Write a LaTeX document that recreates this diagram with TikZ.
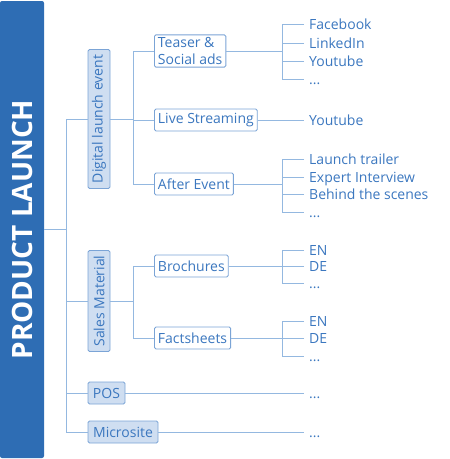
\documentclass[tikz,border=0pt]{standalone}
\usepackage{fontspec}
\setmainfont{Open Sans}
\usepackage{tikz}
\usetikzlibrary{positioning}

\definecolor{barblue}{HTML}{2E6DB4}
\definecolor{txtblue}{HTML}{3B77BF}
\definecolor{lineblue}{HTML}{94B8E0}
\definecolor{boxblue}{HTML}{7BA4D6}
\definecolor{boxfill}{HTML}{CFDEF1}

\begin{document}
\begin{tikzpicture}[x=1pt,y=-1pt,
    link/.style={draw=lineblue, line width=0.9pt},
    bar/.style={fill=barblue, rounded corners=2pt, inner sep=0pt, text=white,
      font=\fontsize{28}{30}\selectfont\bfseries},
    topic/.style={draw=boxblue, line width=0.9pt, fill=boxfill, rounded corners=1.5pt,
      text=txtblue, inner sep=0pt, font=\fontsize{14}{17}\selectfont},
    sub/.style={draw=boxblue, line width=0.9pt, fill=white, rounded corners=1.5pt,
      text=txtblue, inner xsep=3.5pt, inner ysep=2.5pt, minimum height=22pt, align=left,
      anchor=west, font=\fontsize{14}{17}\selectfont},
    leaf/.style={anchor=west, text=txtblue, inner xsep=5pt, inner ysep=1pt,
      text height=11.5pt, text depth=1.5pt, font=\fontsize{14}{17}\selectfont}]
  \useasboundingbox (0,0) rectangle (450,459);

  % main bar and topics
  \node[bar, minimum width=44pt, minimum height=457pt] (launch) at (22,229.5) {\rotatebox{90}{PRODUCT LAUNCH}};
  \node[topic, minimum width=22pt, minimum height=139pt] (digital) at (99,119) {\rotatebox{90}{Digital launch event}};
  \node[topic, minimum width=22pt, minimum height=101pt] (sales) at (99,301) {\rotatebox{90}{Sales Material}};
  \node[topic, minimum width=37pt, minimum height=22pt] (pos) at (106.5,393) {POS};
  \node[topic, minimum width=70pt, minimum height=22pt] (microsite) at (123,432) {Microsite};

  \coordinate (trunk) at (66,229);
  \coordinate (split) at (133,0);
  \coordinate (leafx) at (282,0);

  % sub topics
  \node[sub] (teaser) at (154,51) {Teaser \&\\Social ads};
  \node[sub] (live) at (154,120) {Live Streaming};
  \node[sub] (after) at (154,184) {After Event};
  \node[sub] (brochures) at (154,266) {Brochures};
  \node[sub] (factsheets) at (154,338) {Factsheets};

  % leaves
  \node[leaf] (fb) at (304,24) {Facebook};
  \node[leaf] (li) at (304,43) {LinkedIn};
  \node[leaf] (yt1) at (304,61) {Youtube};
  \node[leaf] (d1) at (304,79) {...};
  \node[leaf] (yt2) at (304,120) {Youtube};
  \node[leaf] (lt) at (304,159) {Launch trailer};
  \node[leaf] (ei) at (304,177) {Expert Interview};
  \node[leaf] (bs) at (304,194) {Behind the scenes};
  \node[leaf] (d2) at (304,212) {...};
  \node[leaf] (en1) at (304,250) {EN};
  \node[leaf] (de1) at (304,266) {DE};
  \node[leaf] (d3) at (304,283) {...};
  \node[leaf] (en2) at (304,321) {EN};
  \node[leaf] (de2) at (304,338) {DE};
  \node[leaf] (d4) at (304,356) {...};
  \node[leaf] (d5) at (304,393) {...};
  \node[leaf] (d6) at (304,432) {...};

  % connectors
  \draw[link] (launch.east |- trunk) -- (trunk);
  \draw[link] (digital.west) -| (microsite.west -| trunk) -- (microsite.west);
  \draw[link] (sales.west) -- (sales.west -| trunk);
  \draw[link] (pos.west) -- (pos.west -| trunk);

  \draw[link] (teaser.west) -| (after.west -| split) -- (after.west);
  \draw[link] (digital.east) -- (digital.east -| split);
  \draw[link] (live.west) -- (live.west -| split);
  \draw[link] (brochures.west) -| (factsheets.west -| split) -- (factsheets.west);
  \draw[link] (sales.east) -- (sales.east -| split);

  \draw[link] (fb.west) -| (d1.west -| leafx) -- (d1.west);
  \draw[link] (lt.west) -| (d2.west -| leafx) -- (d2.west);
  \draw[link] (en1.west) -| (d3.west -| leafx) -- (d3.west);
  \draw[link] (en2.west) -| (d4.west -| leafx) -- (d4.west);
  \foreach \n in {li,yt1,ei,bs,de1,de2}
    \draw[link] (\n.west) -- (\n.west -| leafx);
  \draw[link] (teaser.east) -- (teaser.east -| leafx);
  \draw[link] (after.east) -- (after.east -| leafx);
  \draw[link] (brochures.east) -- (brochures.east -| leafx);
  \draw[link] (factsheets.east) -- (factsheets.east -| leafx);
  \draw[link] (live.east) -- (yt2.west);
  \draw[link] (pos.east) -- (d5.west);
  \draw[link] (microsite.east) -- (d6.west);
\end{tikzpicture}
\end{document}
